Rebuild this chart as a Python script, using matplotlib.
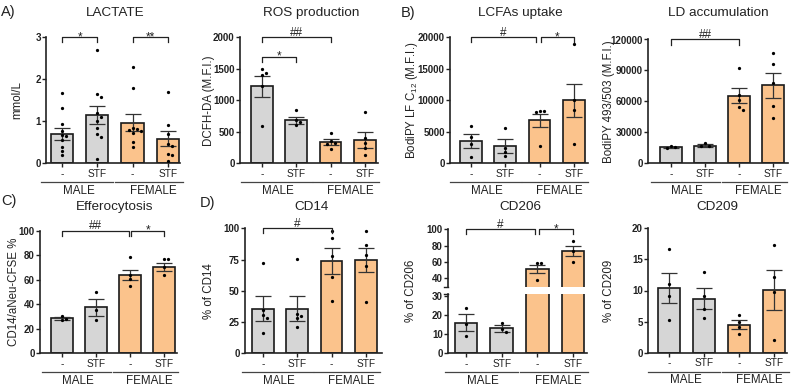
import numpy as np
import matplotlib
matplotlib.use("Agg")
import matplotlib.pyplot as plt
from matplotlib.lines import Line2D

plt.rcParams['font.family'] = ['Liberation Sans', 'DejaVu Sans']
plt.rcParams['mathtext.fontset'] = 'custom'
plt.rcParams['mathtext.rm'] = 'Liberation Sans'
plt.rcParams['mathtext.it'] = 'Liberation Sans:italic'
plt.rcParams['mathtext.bf'] = 'Liberation Sans:bold'

# ---------------- data ----------------
conditions = ['-', 'STF', '-', 'STF']
sexes = ['MALE', 'FEMALE']

lactate_mean = [0.70, 1.15, 0.97, 0.59]
lactate_sem = [0.15, 0.22, 0.21, 0.17]
lactate_pts = [[1.67, 1.31, 0.93, 0.78, 0.67, 0.65, 0.56, 0.40, 0.30, 0.20],
               [2.70, 1.64, 1.57, 1.19, 1.10, 1.00, 0.83, 0.70, 0.63, 0.10],
               [2.30, 1.80, 0.84, 0.82, 0.80, 0.78, 0.73, 0.51, 0.38],
               [1.70, 0.91, 0.70, 0.45, 0.42, 0.22, 0.20, 0.06]]

ros_mean = [1220, 680, 335, 370]
ros_sem = [165, 55, 45, 120]
ros_pts = [[1490, 1430, 1400, 1220, 590],
           [840, 690, 660, 610],
           [480, 360, 330, 300, 230],
           [810, 400, 330, 240, 130]]

lcfa_mean = [3550, 2750, 6800, 10000]
lcfa_sem = [1100, 1050, 1050, 2600]
lcfa_pts = [[5900, 4100, 3000, 1000],
            [5600, 2500, 1800, 1100],
            [8300, 8300, 8200, 2800],
            [18900, 10100, 8400, 3000]]

ld_mean = [15500, 17200, 65500, 75500]
ld_sem = [700, 1200, 7500, 11800]
ld_pts = [[16500, 15500, 14500],
          [20000, 17000, 16500],
          [92000, 66000, 61000, 55000, 52000],
          [107000, 96000, 78000, 56000, 44000]]

effero_mean = [28.5, 37.5, 64.0, 70.5]
effero_sem = [1.0, 7.0, 4.0, 3.0]
effero_pts = [[30.5, 28.0, 27.0],
              [50.0, 35.0, 27.5],
              [78.5, 64.0, 60.5, 54.5],
              [77.0, 77.0, 70.0, 64.0]]

cd14_mean = [35.5, 35.5, 74.0, 74.5]
cd14_sem = [10.0, 10.0, 10.5, 9.5]
cd14_pts = [[72.5, 35.0, 31.0, 28.0, 16.0],
            [75.5, 31.5, 29.5, 28.0, 21.0],
            [98.0, 92.5, 78.0, 61.0, 42.0],
            [97.5, 86.5, 79.0, 70.0, 41.0]]

cd206_mean = [16.0, 13.0, 51.0, 73.5]
cd206_sem = [4.3, 2.0, 5.0, 6.5]
cd206_pts = [[23.5, 15.5, 9.0],
             [16.0, 12.5, 11.0],
             [59.0, 58.5, 38.5],
             [86.0, 74.0, 59.5]]

cd209_mean = [10.4, 8.7, 4.5, 10.1]
cd209_sem = [2.4, 1.65, 0.7, 3.2]
cd209_pts = [[16.6, 11.0, 9.1, 5.25],
             [13.0, 9.1, 7.1, 5.5],
             [6.1, 5.0, 4.2, 3.0],
             [17.3, 12.1, 9.8, 2.0]]

# ---------------- figure ----------------
W, H = 798, 386
fig = plt.figure(figsize=(W / 100, H / 100), dpi=100)

GRAY = '#d6d6d6'
ORANGE = '#fbc38c'
bar_colors = [GRAY, GRAY, ORANGE, ORANGE]
EDGE = '#1a1a1a'
TXT = '#222222'


def F(x, y):
    return x / W, 1 - y / H


def add_ax(l, t, r, b):
    return fig.add_axes([l / W, 1 - b / H, (r - l) / W, (b - t) / H])


def swarm(vals, ypx, d=4.0):
    placed = []
    offs = []
    for v in vals:
        y = v * ypx
        for k in [0, 1, -1, 2, -2, 3, -3]:
            x = k * d
            if all((x - px) ** 2 + (y - py) ** 2 >= (d * 0.95) ** 2 for px, py in placed):
                break
        placed.append((x, y))
        offs.append(x)
    return offs


def style(ax, yticks, bottom=True):
    for s in ['top', 'right']:
        ax.spines[s].set_visible(False)
    for s in ['left', 'bottom']:
        ax.spines[s].set_linewidth(1.2)
        ax.spines[s].set_color(TXT)
    ax.set_yticks(yticks)
    ax.tick_params(axis='y', length=2.6, width=1.0, pad=1.2, labelsize=7.0, colors=TXT)
    for lab in ax.get_yticklabels():
        lab.set_fontweight('bold')
    if bottom:
        ax.set_xticks(range(4))
        ax.set_xticklabels([])
        ax.tick_params(axis='x', length=3.2, width=1.0, colors=TXT)
    else:
        ax.spines['bottom'].set_visible(False)
        ax.set_xticks([])


def draw(ax, means, sems, pts, ypx, sp):
    x = np.arange(4)
    ax.bar(x, means, width=0.63, color=bar_colors, edgecolor=EDGE, linewidth=1.2, zorder=2)
    ax.errorbar(x, means, yerr=sems, fmt='none', ecolor='#333333', elinewidth=0.9,
                capsize=5.5, capthick=0.9, zorder=3)
    for i in range(4):
        offs = swarm(pts[i], ypx)
        ax.scatter(i + np.array(offs) / sp, pts[i], s=5.5, color='black', zorder=4,
                   linewidths=0)


def bracket(ax, x1, x2, y, text, ypx):
    leg = 5.0 / ypx
    ax.plot([x1, x1, x2, x2], [y - leg, y, y, y - leg], color=TXT, lw=0.9,
            clip_on=False, zorder=5)
    off = -1.9 if '*' in text else 1.1
    ax.annotate(text, xy=((x1 + x2) / 2, y), xytext=(0, off), textcoords='offset points',
                ha='center', va='baseline', fontsize=8.5, color=TXT)


def under(c0, sp, b):
    for i, c in enumerate(conditions):
        fig.text(*F(c0 + i * sp, b + 10.5), c, ha='center', va='center', fontsize=7.3,
                 color=TXT)
    for (a, z) in [(-0.6, 1.45), (1.5, 3.42)]:
        fig.add_artist(Line2D([(c0 + a * sp) / W, (c0 + z * sp) / W],
                              [1 - (b + 19) / H] * 2, color='#444444', lw=0.9))
    for xm, s in zip([0.47, 2.58], sexes):
        fig.text(*F(c0 + xm * sp, b + 27.5), s, ha='center', va='center', fontsize=8.4,
                 color=TXT)


panels = [
    dict(mean=lactate_mean, sem=lactate_sem, pts=lactate_pts, l=46, r=180, t=37.3, b=163.3,
         c0=62, sp=35.3, ylim=(0, 3), yticks=[0, 1, 2, 3], ylabel='mmol/L', ylx=17,
         title='LACTATE', tx=115, ty=13,
         br=[(0, 1, '*', 3), (2, 3, '**', 3)]),
    dict(mean=ros_mean, sem=ros_sem, pts=ros_pts, l=240, r=378, t=37.3, b=163.3,
         c0=262, sp=34.3, ylim=(0, 2000), yticks=[0, 500, 1000, 1500, 2000],
         ylabel='DCFH-DA (M.F.I.)', ylx=209, title='ROS production', tx=311, ty=13,
         br=[(0, 2, '##', 2000), (0, 1, '*', 1690)]),
    dict(mean=lcfa_mean, sem=lcfa_sem, pts=lcfa_pts, l=450, r=588, t=37.3, b=163.3,
         c0=471, sp=34.3, ylim=(0, 20000), yticks=[0, 5000, 10000, 15000, 20000],
         ylabel=r'BodiPY LF C$_{12}$ (M.F.I.)', ylx=412, title='LCFAs uptake', tx=520, ty=13,
         br=[(0, 1.9, '#', 20000), (2.04, 3, '*', 20000)]),
    dict(mean=ld_mean, sem=ld_sem, pts=ld_pts, l=648, r=788, t=39.5, b=163.3,
         c0=671, sp=34, ylim=(0, 120000), yticks=[0, 30000, 60000, 90000, 120000],
         ylabel='BodiPY 493/503 (M.F.I.)', ylx=609, title='LD accumulation', tx=718, ty=13,
         br=[(0, 2, '##', 120000)]),
    dict(mean=effero_mean, sem=effero_sem, pts=effero_pts, l=40, r=177, t=230.7, b=353.3,
         c0=62, sp=34, ylim=(0, 100), yticks=[0, 20, 40, 60, 80, 100],
         ylabel='CD14/aNeu-CFSE %', ylx=14, title='Efferocytosis', tx=115, ty=207,
         br=[(0, 1.96, '##', 100), (2.04, 3, '*', 100)]),
    dict(mean=cd14_mean, sem=cd14_sem, pts=cd14_pts, l=245, r=382, t=228.3, b=353.3,
         c0=263, sp=34.3, ylim=(0, 100), yticks=[0, 25, 50, 75, 100],
         ylabel='% of CD14', ylx=209, title='CD14', tx=312, ty=207,
         br=[(0, 2, '#', 100)]),
    dict(mean=cd209_mean, sem=cd209_sem, pts=cd209_pts, l=648, r=787, t=228.3, b=352.7,
         c0=669, sp=35, ylim=(0, 20), yticks=[0, 5, 10, 15, 20],
         ylabel='% of CD209', ylx=609, title='CD209', tx=717, ty=207, br=[]),
]

for p in panels:
    ax = add_ax(p['l'], p['t'], p['r'], p['b'])
    ax.set_xlim((p['l'] - p['c0']) / p['sp'], (p['r'] - p['c0']) / p['sp'])
    ax.set_ylim(p['ylim'])
    ypx = (p['b'] - p['t']) / (p['ylim'][1] - p['ylim'][0])
    draw(ax, p['mean'], p['sem'], p['pts'], ypx, p['sp'])
    style(ax, p['yticks'])
    for (a, z, txt, y) in p['br']:
        bracket(ax, a, z, y, txt, ypx)
    fig.text(*F(p['ylx'], (p['t'] + p['b']) / 2), p['ylabel'], rotation=90, ha='center',
             va='center', fontsize=8.3, color=TXT)
    fig.text(*F(p['tx'], p['ty']), p['title'], ha='center', va='center', fontsize=9.7,
             color=TXT)
    under(p['c0'], p['sp'], p['b'])

# ---- CD206 broken axis ----
l, r, c0, sp = 448, 587, 466, 35.7
t_up, b_up, t_lo, b_lo = 229.3, 286.5, 294.0, 353.3
xl = ((l - c0) / sp, (r - c0) / sp)
ax_up = add_ax(l, t_up, r, b_up)
ax_lo = add_ax(l, t_lo, r, b_lo)
ax_up.set_xlim(xl)
ax_lo.set_xlim(xl)
ax_up.set_ylim(30, 100)
ax_lo.set_ylim(0, 31)
ypx_up = (b_up - t_up) / 70
ypx_lo = (b_lo - t_lo) / 31
draw(ax_up, cd206_mean, cd206_sem, cd206_pts, ypx_up, sp)
draw(ax_lo, cd206_mean, cd206_sem, cd206_pts, ypx_lo, sp)
style(ax_up, [40, 60, 80, 100], bottom=False)
style(ax_lo, [0, 10, 20, 30])
bracket(ax_up, 0, 1.94, 100, '#', ypx_up)
bracket(ax_up, 2.04, 3, 100, '*', ypx_up)
for yy in [b_up, t_lo]:
    fig.add_artist(Line2D([(l - 4) / W, (l + 0.5) / W], [1 - yy / H] * 2,
                          color=TXT, lw=1.0))
fig.text(*F(411, (t_up + b_lo) / 2), '% of CD206', rotation=90, ha='center', va='center',
         fontsize=8.3, color=TXT)
fig.text(*F(520, 207), 'CD206', ha='center', va='center', fontsize=9.7, color=TXT)
under(c0, sp, b_lo)

# panel letters
for txt, x, y in [('A)', 1, 12), ('B)', 401, 12.5), ('C)', 1, 201), ('D)', 200, 203)]:
    fig.text(*F(x, y), txt, ha='left', va='center', fontsize=10.5, color=TXT)

fig.savefig('out.png', dpi=100)
